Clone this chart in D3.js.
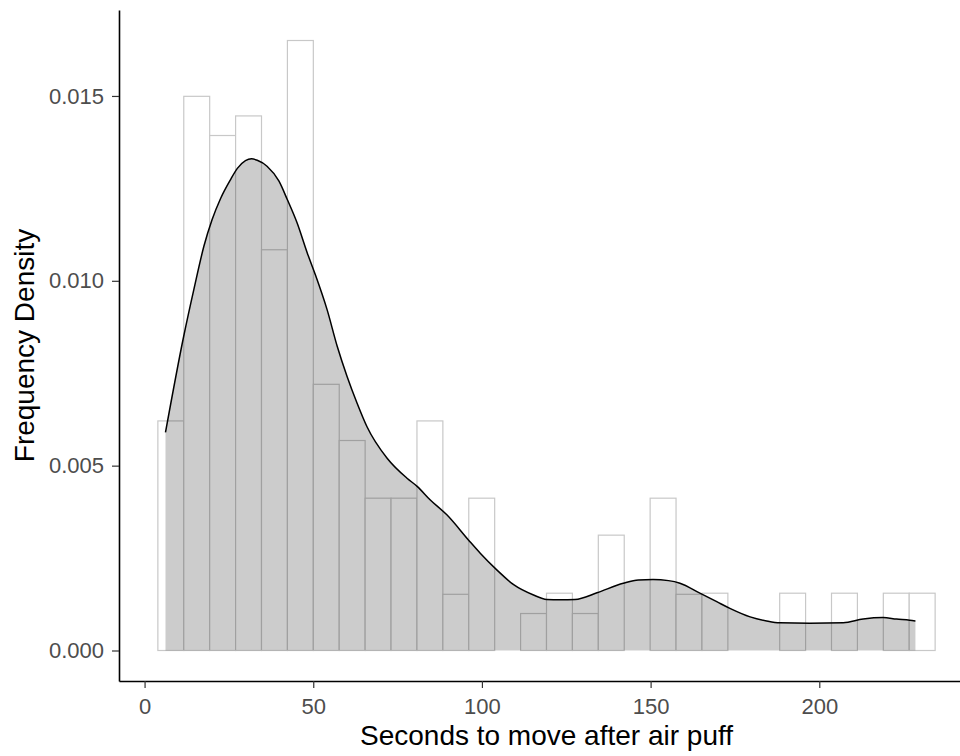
<!DOCTYPE html>
<html>
<head>
<meta charset="utf-8">
<script src="https://cdn.jsdelivr.net/npm/d3@7"></script>
<style>
body { margin: 0; background: #fff; }
text { font-family: "Liberation Sans", Arial, sans-serif; }
</style>
</head>
<body>
<div id="histplot"></div>
<script>
// histogram: 30 bins, values are density (count / (n * width))
var binStart = 3.94, binWidth = 7.68
var histDensity = [0.00621, 0.01499, 0.01393, 0.01446, 0.01084, 0.01650, 0.00720, 0.00568, 0.00412, 0.00412,
                   0.00621, 0.00152, 0.00412, 0, 0.00100, 0.00155, 0.00100, 0.00312, 0, 0.00412,
                   0.00152, 0.00155, 0, 0, 0.00155, 0, 0.00155, 0, 0.00155, 0.00155]

// kernel density curve
var densityX = [6.2, 11.6, 14.6, 17.6, 20.0, 22.5, 25.5, 27.5, 29.9, 31.7, 33.4, 36.3, 39.8, 42.3, 45.2, 48.2,
                50.6, 54.1, 57.1, 60.0, 63.0, 65.9, 71.9, 77.8, 80.8, 84.7, 89.6, 96.0, 99.5, 104.4, 109.4,
                115.3, 119.2, 123.2, 127.6, 134.1, 141.9, 146.4, 150.7, 155.3, 158.7, 164.6, 169.6, 173.5,
                179.5, 184.4, 188.3, 197.2, 207.1, 213.0, 218.9, 222.9, 226.8, 228.5]
var densityY = [0.00590, 0.00850, 0.00976, 0.01094, 0.01165, 0.01222, 0.01274, 0.01304, 0.01325, 0.01330,
                0.01326, 0.01310, 0.01270, 0.01220, 0.01157, 0.01076, 0.01017, 0.00922, 0.00823, 0.00742,
                0.00669, 0.00606, 0.00520, 0.00466, 0.00444, 0.00407, 0.00367, 0.00299, 0.00263, 0.00218,
                0.00178, 0.00150, 0.00138, 0.00137, 0.00138, 0.00156, 0.00182, 0.00191, 0.00192, 0.00189,
                0.00182, 0.00155, 0.00132, 0.00114, 0.00091, 0.00080, 0.00075, 0.00074, 0.00075, 0.00085,
                0.00089, 0.00085, 0.00082, 0.00080]

var xTicks = [0, 50, 100, 150, 200]
var yTicks = [0, 0.005, 0.010, 0.015]
var xTitle = "Seconds to move after air puff"
var yTitle = "Frequency Density"

var outerWidth = 960, outerHeight = 756
var panel = {left: 119, right: 974, top: 10, bottom: 681}

var bins = histDensity.map(function(v, i) {
    return {x0: binStart + i * binWidth, x1: binStart + (i + 1) * binWidth, y: v}
})
var curve = densityX.map(function(x, i) { return {x: x, y: densityY[i]} })

var xLo = binStart, xHi = binStart + histDensity.length * binWidth
var xPad = 0.05 * (xHi - xLo)
var yMax = d3.max(histDensity)

var xScale = d3.scaleLinear().domain([xLo - xPad, xHi + xPad]).range([panel.left, panel.right])
var yScale = d3.scaleLinear().domain([-0.05 * yMax, yMax * 1.05]).range([panel.bottom, panel.top])

var svg = d3.select("#histplot").append("svg")
    .attr("width", outerWidth)
    .attr("height", outerHeight)

svg.append("g").selectAll("rect")
    .data(bins)
    .enter()
    .append("rect")
    .attr("x", function(d) { return xScale(d.x0) })
    .attr("width", function(d) { return xScale(d.x1) - xScale(d.x0) })
    .attr("y", function(d) { return yScale(d.y) })
    .attr("height", function(d) { return yScale(0) - yScale(d.y) })
    .attr("fill", "white")
    .attr("stroke", "#c8c8c8")
    .attr("stroke-width", 1.2)

var area = d3.area()
    .x(function(d) { return xScale(d.x) })
    .y0(yScale(0))
    .y1(function(d) { return yScale(d.y) })
    .curve(d3.curveMonotoneX)

var line = d3.line()
    .x(function(d) { return xScale(d.x) })
    .y(function(d) { return yScale(d.y) })
    .curve(d3.curveMonotoneX)

svg.append("path")
    .datum(curve)
    .attr("d", area)
    .attr("fill", "black")
    .attr("fill-opacity", 0.2)

svg.append("path")
    .datum(curve)
    .attr("d", line)
    .attr("fill", "none")
    .attr("stroke", "black")
    .attr("stroke-width", 1.5)

var xAxis = svg.append("g")
    .attr("transform", "translate(0," + panel.bottom + ")")
    .call(d3.axisBottom(xScale).tickValues(xTicks).tickSize(7).tickSizeOuter(0).tickPadding(10))

var yAxis = svg.append("g")
    .attr("transform", "translate(" + panel.left + ",0)")
    .call(d3.axisLeft(yScale).tickValues(yTicks).tickFormat(d3.format(".3f")).tickSize(7).tickSizeOuter(0).tickPadding(8))

;[xAxis, yAxis].forEach(function(ax) {
    ax.select(".domain").attr("stroke", "black").attr("stroke-width", 1.6)
    ax.selectAll(".tick line").attr("stroke", "#333333").attr("stroke-width", 1.2)
    ax.selectAll(".tick text")
        .attr("fill", "#4d4d4d")
        .style("font-size", "22px")
        .style("font-family", '"Liberation Sans", Arial, sans-serif')
})

svg.append("text")
    .attr("x", (panel.left + panel.right) / 2)
    .attr("y", 745)
    .attr("text-anchor", "middle")
    .attr("fill", "black")
    .style("font-size", "28px")
    .text(xTitle)

svg.append("text")
    .attr("transform", "translate(34," + (panel.top + panel.bottom) / 2 + ") rotate(-90)")
    .attr("text-anchor", "middle")
    .attr("fill", "black")
    .style("font-size", "28px")
    .text(yTitle)
</script>
</body>
</html>
